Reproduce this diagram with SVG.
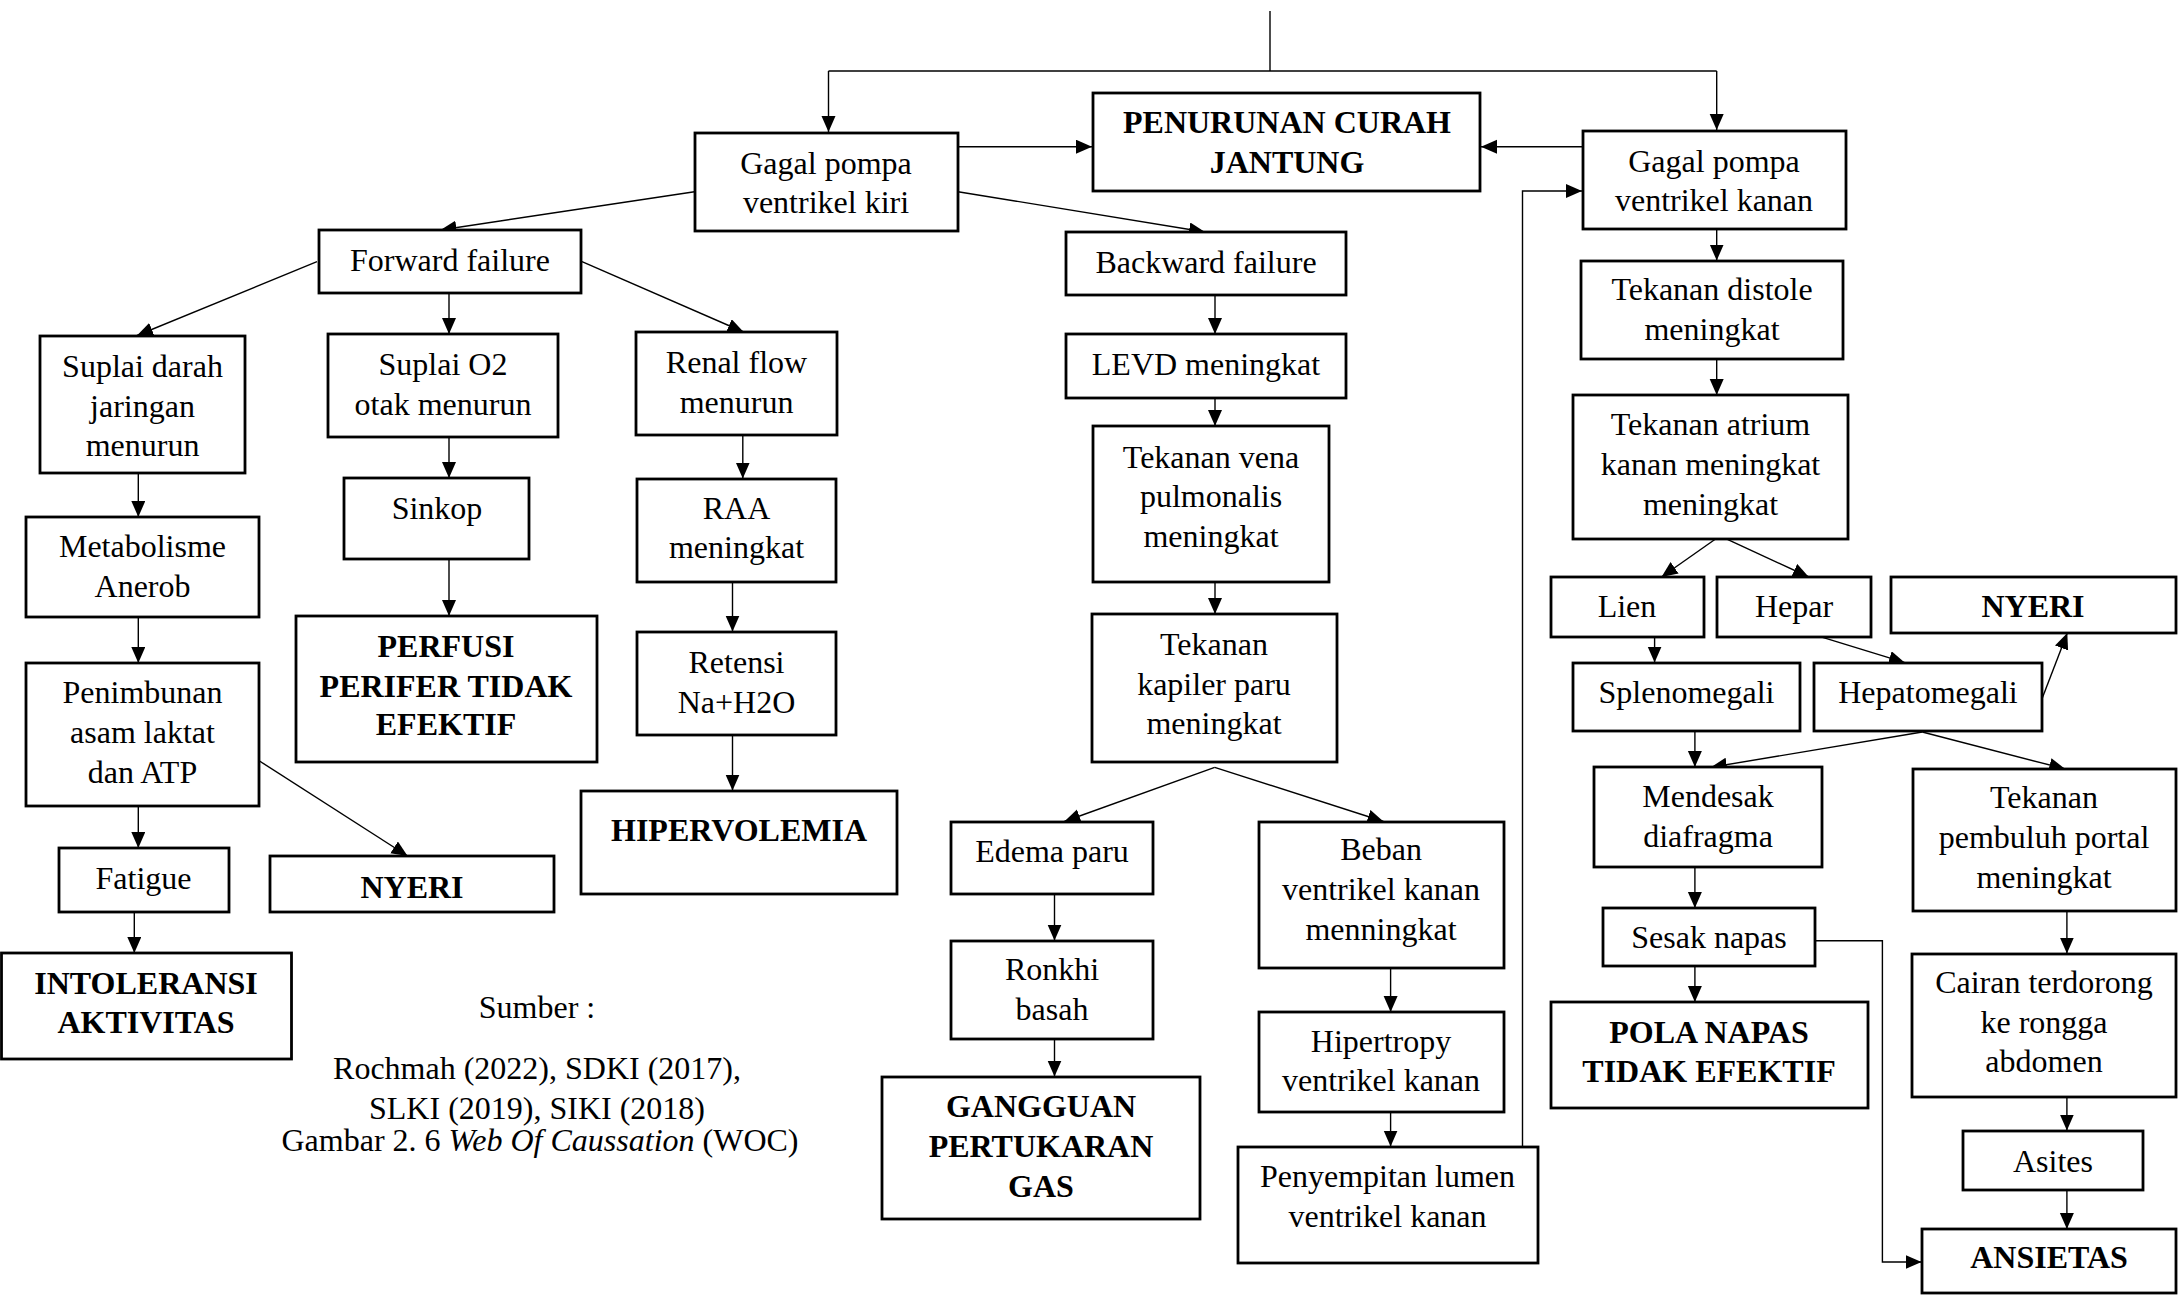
<svg xmlns="http://www.w3.org/2000/svg" width="2179" height="1296" viewBox="0 0 2179 1296">
<style>
.box{fill:#fff;stroke:#000;stroke-width:2.8}
.t{font-family:"Liberation Serif","Times New Roman",serif;font-size:32px;text-anchor:middle;fill:#000}
.b{font-weight:bold}
.c line,.c polyline{stroke:#000;stroke-width:1.4;fill:none}
.a{marker-end:url(#arr)}
</style>
<defs>
<marker id="arr" markerUnits="userSpaceOnUse" markerWidth="17" markerHeight="15" refX="16" refY="7" orient="auto">
<path d="M0,0 L16,7 L0,14 z" fill="#000"/>
</marker>
</defs>
<rect width="2179" height="1296" fill="#fff"/>
<g class="c" id="connectors">
<line x1="1270" y1="11" x2="1270" y2="71"/>
<line x1="828.5" y1="71" x2="1716.7" y2="71"/>
<line class="a" x1="828.5" y1="71" x2="828.5" y2="132"/>
<line class="a" x1="1716.7" y1="71" x2="1716.7" y2="130"/>
<line class="a" x1="958" y1="146.7" x2="1092" y2="146.7"/>
<line class="a" x1="1583" y1="146.7" x2="1481" y2="146.7"/>
<polyline class="a" points="1522.5,1147 1522.5,191 1582,191"/>
<line class="a" x1="694.5" y1="191.7" x2="440.5" y2="230"/>
<line class="a" x1="958" y1="191.7" x2="1205" y2="232"/>
<line class="a" x1="317" y1="261.7" x2="137" y2="335.5"/>
<line class="a" x1="449" y1="293.5" x2="449" y2="334"/>
<line class="a" x1="582" y1="261.7" x2="743.6" y2="332"/>
<line class="a" x1="138.3" y1="473.3" x2="138.3" y2="517"/>
<line class="a" x1="138.3" y1="617.3" x2="138.3" y2="663"/>
<line class="a" x1="138.3" y1="805.7" x2="138.3" y2="848"/>
<line class="a" x1="259.5" y1="761" x2="407.6" y2="856"/>
<line class="a" x1="134.3" y1="911.7" x2="134.3" y2="953"/>
<line class="a" x1="449" y1="437.3" x2="449" y2="478"/>
<line class="a" x1="449" y1="559.3" x2="449" y2="616"/>
<line class="a" x1="742.8" y1="435" x2="742.8" y2="478.5"/>
<line class="a" x1="732.5" y1="581.7" x2="732.5" y2="631.5"/>
<line class="a" x1="732.5" y1="734.7" x2="732.5" y2="790.5"/>
<line class="a" x1="1215" y1="295.3" x2="1215" y2="334"/>
<line class="a" x1="1215" y1="397.7" x2="1215" y2="426"/>
<line class="a" x1="1215" y1="582.3" x2="1215" y2="614"/>
<line class="a" x1="1214.7" y1="767.3" x2="1064.3" y2="821.5"/>
<line class="a" x1="1214.7" y1="767.3" x2="1383.5" y2="821.5"/>
<line class="a" x1="1054.5" y1="893.7" x2="1054.5" y2="940.5"/>
<line class="a" x1="1054.5" y1="1038.7" x2="1054.5" y2="1076.5"/>
<line class="a" x1="1390.6" y1="968.3" x2="1390.6" y2="1012"/>
<line class="a" x1="1390.6" y1="1112.3" x2="1390.6" y2="1146.5"/>
<line class="a" x1="1716.7" y1="228.7" x2="1716.7" y2="260.5"/>
<line class="a" x1="1716.7" y1="358.7" x2="1716.7" y2="395"/>
<line class="a" x1="1715.2" y1="539.3" x2="1661.5" y2="577"/>
<line class="a" x1="1727.4" y1="539.3" x2="1808.8" y2="577"/>
<line class="a" x1="1654.6" y1="637.3" x2="1654.6" y2="662.5"/>
<line class="a" x1="1822.6" y1="637.3" x2="1904.9" y2="662.7"/>
<line class="a" x1="2042.2" y1="698.3" x2="2067.3" y2="633"/>
<line class="a" x1="1694.9" y1="730.7" x2="1694.9" y2="767"/>
<line class="a" x1="1922.3" y1="732" x2="1710.9" y2="767.3"/>
<line class="a" x1="1922.3" y1="732" x2="2065.2" y2="769"/>
<line class="a" x1="1694.9" y1="866.7" x2="1694.9" y2="908"/>
<line class="a" x1="1694.9" y1="966" x2="1694.9" y2="1002"/>
<polyline class="a" points="1815.3,940.7 1882.4,940.7 1882.4,1262 1921.5,1262"/>
<line class="a" x1="2066.9" y1="911.3" x2="2066.9" y2="953.5"/>
<line class="a" x1="2066.9" y1="1096.7" x2="2066.9" y2="1130.5"/>
<line class="a" x1="2066.9" y1="1190" x2="2066.9" y2="1229"/>
</g>
<g id="n_penurunan"><rect class="box" x="1093" y="93" width="387" height="98"/><text class="t b" x="1287"><tspan x="1287" y="133">PENURUNAN CURAH</tspan><tspan x="1287" y="173">JANTUNG</tspan></text></g>
<g id="n_gagal_kiri"><rect class="box" x="695" y="133" width="263" height="98"/><text class="t" x="826"><tspan x="826" y="174">Gagal pompa</tspan><tspan x="826" y="213">ventrikel kiri</tspan></text></g>
<g id="n_gagal_kanan"><rect class="box" x="1583" y="131" width="263" height="98"/><text class="t"><tspan x="1714" y="172">Gagal pompa</tspan><tspan x="1714" y="211">ventrikel kanan</tspan></text></g>
<g id="n_forward"><rect class="box" x="319" y="230" width="262" height="63"/><text class="t" x="450" y="271">Forward failure</text></g>
<g id="n_backward"><rect class="box" x="1066" y="232" width="280" height="63"/><text class="t" x="1206" y="273">Backward failure</text></g>
<g id="n_levd"><rect class="box" x="1066" y="334" width="280" height="64"/><text class="t" x="1206" y="375">LEVD meningkat</text></g>
<g id="n_distole"><rect class="box" x="1581" y="261" width="262" height="98"/><text class="t"><tspan x="1712" y="300">Tekanan distole</tspan><tspan x="1712" y="340">meningkat</tspan></text></g>
<g id="n_atrium"><rect class="box" x="1573" y="395" width="275" height="144"/><text class="t"><tspan x="1710.5" y="435">Tekanan atrium</tspan><tspan x="1710.5" y="475">kanan meningkat</tspan><tspan x="1710.5" y="515">meningkat</tspan></text></g>
<g id="n_suplai_darah"><rect class="box" x="40" y="336" width="205" height="137"/><text class="t"><tspan x="142.5" y="377">Suplai darah</tspan><tspan x="142.5" y="417">jaringan</tspan><tspan x="142.5" y="456">menurun</tspan></text></g>
<g id="n_suplai_o2"><rect class="box" x="328" y="334" width="230" height="103"/><text class="t"><tspan x="443" y="375">Suplai O2</tspan><tspan x="443" y="415">otak menurun</tspan></text></g>
<g id="n_renal"><rect class="box" x="636" y="332" width="201" height="103"/><text class="t"><tspan x="736.5" y="373">Renal flow</tspan><tspan x="736.5" y="413">menurun</tspan></text></g>
<g id="n_metabolisme"><rect class="box" x="26" y="517" width="233" height="100"/><text class="t"><tspan x="142.5" y="557">Metabolisme</tspan><tspan x="142.5" y="597">Anerob</tspan></text></g>
<g id="n_penimbunan"><rect class="box" x="26" y="663" width="233" height="143"/><text class="t"><tspan x="142.5" y="703">Penimbunan</tspan><tspan x="142.5" y="743">asam laktat</tspan><tspan x="142.5" y="783">dan ATP</tspan></text></g>
<g id="n_fatigue"><rect class="box" x="59" y="848" width="170" height="64"/><text class="t" x="143.5" y="889">Fatigue</text></g>
<g id="n_nyeri_1"><rect class="box" x="270" y="856" width="284" height="56"/><text class="t b" x="412" y="898">NYERI</text></g>
<g id="n_intoleransi"><rect class="box" x="1.5" y="953" width="290" height="106"/><text class="t b"><tspan x="146" y="994">INTOLERANSI</tspan><tspan x="146" y="1033">AKTIVITAS</tspan></text></g>
<g id="n_sinkop"><rect class="box" x="344" y="478" width="185" height="81"/><text class="t" x="437" y="519">Sinkop</text></g>
<g id="n_perfusi"><rect class="box" x="296" y="616" width="301" height="146"/><text class="t b"><tspan x="446" y="657">PERFUSI</tspan><tspan x="446" y="697">PERIFER TIDAK</tspan><tspan x="446" y="735">EFEKTIF</tspan></text></g>
<g id="n_raa"><rect class="box" x="637" y="479" width="199" height="103"/><text class="t"><tspan x="736.5" y="519">RAA</tspan><tspan x="736.5" y="558">meningkat</tspan></text></g>
<g id="n_retensi"><rect class="box" x="637" y="632" width="199" height="103"/><text class="t"><tspan x="736.5" y="673">Retensi</tspan><tspan x="736.5" y="713">Na+H2O</tspan></text></g>
<g id="n_hipervolemia"><rect class="box" x="581" y="791" width="316" height="103"/><text class="t b" x="739" y="841">HIPERVOLEMIA</text></g>
<g id="n_vena"><rect class="box" x="1093" y="426" width="236" height="156"/><text class="t"><tspan x="1211" y="468">Tekanan vena</tspan><tspan x="1211" y="507">pulmonalis</tspan><tspan x="1211" y="547">meningkat</tspan></text></g>
<g id="n_kapiler"><rect class="box" x="1092" y="614" width="245" height="148"/><text class="t"><tspan x="1214" y="655">Tekanan</tspan><tspan x="1214" y="695">kapiler paru</tspan><tspan x="1214" y="734">meningkat</tspan></text></g>
<g id="n_edema"><rect class="box" x="951" y="822" width="202" height="72"/><text class="t" x="1052" y="862">Edema paru</text></g>
<g id="n_beban"><rect class="box" x="1259" y="822" width="245" height="146"/><text class="t"><tspan x="1381" y="860">Beban</tspan><tspan x="1381" y="900">ventrikel kanan</tspan><tspan x="1381" y="940">menningkat</tspan></text></g>
<g id="n_ronkhi"><rect class="box" x="951" y="941" width="202" height="98"/><text class="t"><tspan x="1052" y="980">Ronkhi</tspan><tspan x="1052" y="1020">basah</tspan></text></g>
<g id="n_gangguan"><rect class="box" x="882" y="1077" width="318" height="142"/><text class="t b"><tspan x="1041" y="1117">GANGGUAN</tspan><tspan x="1041" y="1157">PERTUKARAN</tspan><tspan x="1041" y="1197">GAS</tspan></text></g>
<g id="n_hipertropy"><rect class="box" x="1259" y="1012" width="245" height="100"/><text class="t"><tspan x="1381" y="1052">Hipertropy</tspan><tspan x="1381" y="1091">ventrikel kanan</tspan></text></g>
<g id="n_penyempitan"><rect class="box" x="1238" y="1147" width="300" height="116"/><text class="t"><tspan x="1387.5" y="1187">Penyempitan lumen</tspan><tspan x="1387.5" y="1227">ventrikel kanan</tspan></text></g>
<g id="n_lien"><rect class="box" x="1551" y="577" width="153" height="60"/><text class="t" x="1627" y="617">Lien</text></g>
<g id="n_hepar"><rect class="box" x="1717" y="577" width="154" height="60"/><text class="t" x="1794" y="617">Hepar</text></g>
<g id="n_nyeri_2"><rect class="box" x="1891" y="577" width="285" height="56"/><text class="t b" x="2033" y="617">NYERI</text></g>
<g id="n_splenomegali"><rect class="box" x="1573" y="663" width="227" height="68"/><text class="t" x="1686.5" y="703">Splenomegali</text></g>
<g id="n_hepatomegali"><rect class="box" x="1814" y="663" width="228" height="68"/><text class="t" x="1928" y="703">Hepatomegali</text></g>
<g id="n_mendesak"><rect class="box" x="1594" y="767" width="228" height="100"/><text class="t"><tspan x="1708" y="807">Mendesak</tspan><tspan x="1708" y="847">diafragma</tspan></text></g>
<g id="n_portal"><rect class="box" x="1913" y="769" width="263" height="142"/><text class="t"><tspan x="2044" y="808">Tekanan</tspan><tspan x="2044" y="848">pembuluh portal</tspan><tspan x="2044" y="888">meningkat</tspan></text></g>
<g id="n_sesak"><rect class="box" x="1603" y="908" width="212" height="58"/><text class="t" x="1709" y="948">Sesak napas</text></g>
<g id="n_pola"><rect class="box" x="1551" y="1002" width="317" height="106"/><text class="t b"><tspan x="1709" y="1043">POLA NAPAS</tspan><tspan x="1709" y="1082">TIDAK EFEKTIF</tspan></text></g>
<g id="n_cairan"><rect class="box" x="1912" y="954" width="264" height="143"/><text class="t"><tspan x="2044" y="993">Cairan terdorong</tspan><tspan x="2044" y="1033">ke rongga</tspan><tspan x="2044" y="1072">abdomen</tspan></text></g>
<g id="n_asites"><rect class="box" x="1963" y="1131" width="180" height="59"/><text class="t" x="2053" y="1172">Asites</text></g>
<g id="n_ansietas"><rect class="box" x="1922" y="1229" width="254" height="64"/><text class="t b" x="2049" y="1268">ANSIETAS</text></g>
<g id="caption">
<text class="t" x="537" y="1018">Sumber :</text>
<text class="t" x="537" y="1079">Rochmah (2022), SDKI (2017),</text>
<text class="t" x="537" y="1119">SLKI (2019), SIKI (2018)</text>
<text class="t" x="540" y="1151">Gambar 2. 6 <tspan font-style="italic">Web Of Caussation</tspan> (WOC)</text>
</g>
</svg>
